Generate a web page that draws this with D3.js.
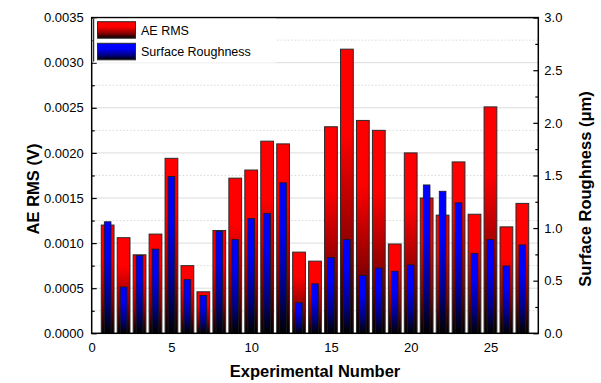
<!DOCTYPE html>
<html>
<head>
<meta charset="utf-8">
<script src="https://cdn.jsdelivr.net/npm/d3@7"></script>
<style>
  html, body { margin: 0; padding: 0; background: #fff; }
  svg { display: block; font-family: "Liberation Sans", Arial, sans-serif; }
</style>
</head>
<body>
<svg id="chart" width="601" height="383"></svg>
<script>
// Experiment index, AE RMS (V) and surface roughness (µm) per run
const experiments = d3.range(1, 28);
const aeRms = [0.00120, 0.00106, 0.00087, 0.00110, 0.00194, 0.00075, 0.00046, 0.00114, 0.00172, 0.00181,
               0.00213, 0.00210, 0.00090, 0.00080, 0.00229, 0.00315, 0.00236, 0.00225, 0.00099, 0.00200,
               0.00150, 0.00131, 0.00190, 0.00132, 0.00251, 0.00118, 0.00144];
const roughness = [1.06, 0.44, 0.74, 0.80, 1.49, 0.51, 0.36, 0.97, 0.89, 1.09,
                   1.14, 1.43, 0.29, 0.47, 0.72, 0.89, 0.55, 0.62, 0.59, 0.65,
                   1.41, 1.35, 1.24, 0.76, 0.89, 0.64, 0.84];
const leftTicks = [0, 0.0005, 0.001, 0.0015, 0.002, 0.0025, 0.003, 0.0035];
const rightTicks = [0, 0.5, 1.0, 1.5, 2.0, 2.5, 3.0];
const xTicks = [0, 5, 10, 15, 20, 25];
const seriesNames = ["AE RMS", "Surface Roughness"];

const svg = d3.select("#chart");
const L = 91.7, R = 538.3, T = 17.6, B = 333.3;

const x = d3.scaleLinear().domain([0, 28]).range([L, R]);
const yL = d3.scaleLinear().domain([0, 0.0035]).range([B, T]);
const yR = d3.scaleLinear().domain([0, 3.0]).range([B, T]);

// gradients: bright at the top, fading to black at the base
const defs = svg.append("defs");
function grad(id, c, mid) {
  const g = defs.append("linearGradient").attr("id", id)
    .attr("x1", 0).attr("y1", 0).attr("x2", 0).attr("y2", 1);
  g.append("stop").attr("offset", 0).attr("stop-color", c);
  g.append("stop").attr("offset", 0.3).attr("stop-color", c);
  g.append("stop").attr("offset", 0.7).attr("stop-color", mid);
  g.append("stop").attr("offset", 1).attr("stop-color", "#000");
}
grad("gRed", "#ff0000", "#8a0000");
grad("gBlue", "#0000ff", "#00008a");

// grid: solid at major, dotted at minor left ticks
const minorL = d3.range(0.00025, 0.0035, 0.0005);
svg.append("g").selectAll("line").data(leftTicks.slice(1, -1)).join("line")
  .attr("x1", L).attr("x2", R).attr("y1", d => yL(d)).attr("y2", d => yL(d))
  .attr("stroke", "#dcdcdc").attr("stroke-width", 1);
svg.append("g").selectAll("line").data(minorL).join("line")
  .attr("x1", L).attr("x2", R).attr("y1", d => yL(d)).attr("y2", d => yL(d))
  .attr("stroke", "#cfcfcf").attr("stroke-width", 0.8).attr("stroke-dasharray", "1.5,2");

// bars
const wRed = x(0.8) - x(0), wBlue = x(0.42) - x(0);
svg.append("g").selectAll("rect").data(experiments).join("rect")
  .attr("x", (d) => x(d) - wRed / 2)
  .attr("y", (d, i) => yL(aeRms[i]))
  .attr("width", wRed)
  .attr("height", (d, i) => B - yL(aeRms[i]))
  .attr("fill", "url(#gRed)")
  .attr("stroke", "#2a2a2a").attr("stroke-width", 1);
svg.append("g").selectAll("rect").data(experiments).join("rect")
  .attr("x", (d) => x(d) - wBlue / 2)
  .attr("y", (d, i) => yR(roughness[i]))
  .attr("width", wBlue)
  .attr("height", (d, i) => B - yR(roughness[i]))
  .attr("fill", "url(#gBlue)")
  .attr("stroke", "#1a1a1a").attr("stroke-width", 0.8);

// axes
const fs = "13px";
const axL = svg.append("g").attr("transform", `translate(${L},0)`)
  .call(d3.axisLeft(yL).tickValues(leftTicks).tickFormat(d3.format(".4f")).tickSize(-5).tickPadding(8));
const axLm = svg.append("g").attr("transform", `translate(${L},0)`)
  .call(d3.axisLeft(yL).tickValues(minorL).tickFormat("").tickSize(-3));
const axR = svg.append("g").attr("transform", `translate(${R},0)`)
  .call(d3.axisRight(yR).tickValues(rightTicks).tickFormat(d3.format(".1f")).tickSize(-5).tickPadding(6));
const axRm = svg.append("g").attr("transform", `translate(${R},0)`)
  .call(d3.axisRight(yR).tickValues(d3.range(0.25, 3, 0.5)).tickFormat("").tickSize(-3));
const axB = svg.append("g").attr("transform", `translate(0,${B})`)
  .call(d3.axisBottom(x).tickValues(xTicks).tickFormat(d3.format("d")).tickSize(0).tickPadding(9));
[axL, axLm, axR, axRm, axB].forEach(a => {
  a.select(".domain").remove();
  a.selectAll("line").attr("stroke", "#000").attr("stroke-width", 1.2);
  a.selectAll("text").attr("font-size", fs).attr("fill", "#000")
    .attr("font-family", "'Liberation Sans', Arial, sans-serif");
});

// frame
svg.append("rect").attr("x", L).attr("y", T).attr("width", R - L).attr("height", B - T)
  .attr("fill", "none").attr("stroke", "#000").attr("stroke-width", 1.5);

// legend
const lg = svg.append("g");
lg.append("rect").attr("x", L + 1).attr("y", T + 1).attr("width", 183).attr("height", 44)
  .attr("fill", "#fff");
lg.append("path").attr("d", `M${L + 2},${T + 1}V${T + 44}`).attr("stroke", "#000").attr("stroke-width", 1);
seriesNames.forEach((name, i) => {
  const yy = 21.7 + i * 21.6;
  lg.append("rect").attr("x", 97.5).attr("y", yy).attr("width", 38).attr("height", 16.5)
    .attr("fill", i === 0 ? "url(#gRed)" : "url(#gBlue)")
    .attr("stroke", "#2a2a2a").attr("stroke-width", 1);
  lg.append("text").attr("x", 141).attr("y", yy + 13).attr("font-size", "12.5px").text(name);
});

// axis titles
svg.append("text").attr("transform", `translate(39,189) rotate(-90)`)
  .attr("text-anchor", "middle").attr("font-weight", "bold").attr("font-size", "16.5px")
  .text("AE RMS (V)");
svg.append("text").attr("transform", `translate(591,189) rotate(-90)`)
  .attr("text-anchor", "middle").attr("font-weight", "bold").attr("font-size", "16.5px")
  .text("Surface Roughness (μm)");
svg.append("text").attr("x", (L + R) / 2).attr("y", 377)
  .attr("text-anchor", "middle").attr("font-weight", "bold").attr("font-size", "16.5px")
  .text("Experimental Number");
</script>
</body>
</html>
